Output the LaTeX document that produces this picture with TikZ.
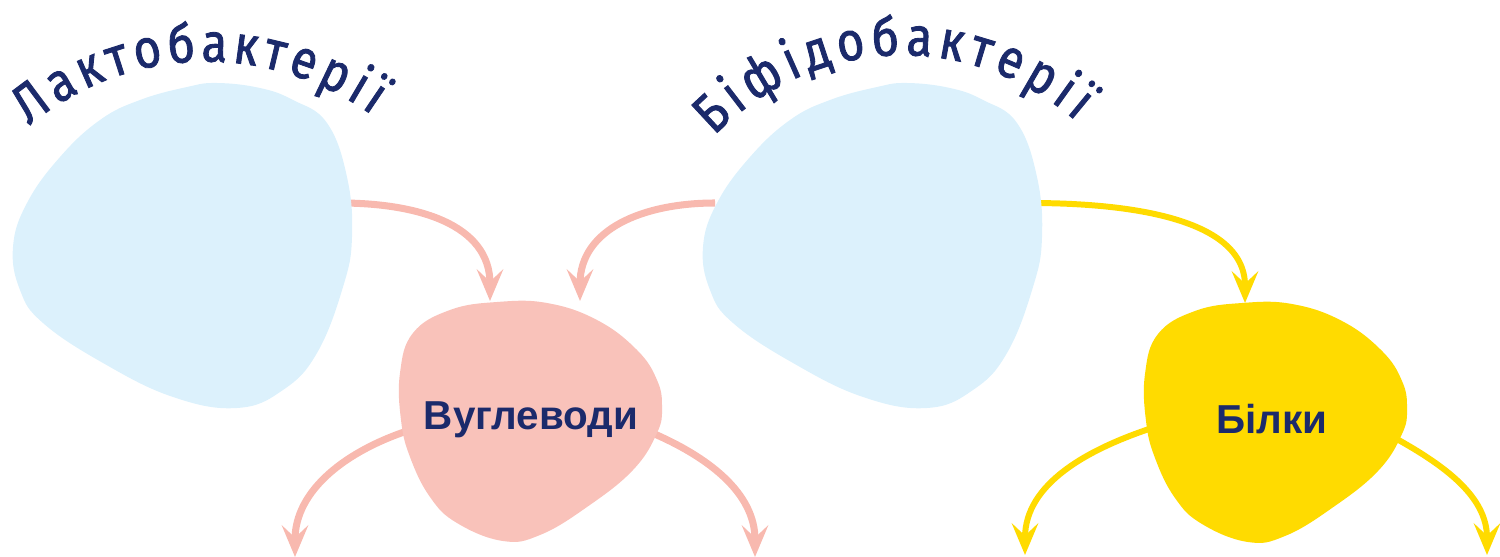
\documentclass[tikz,border=0pt]{standalone}
\usepackage{fontspec}
\usetikzlibrary{arrows.meta,decorations.text}
\newfontfamily\arcfont[Scale=3.1, FakeStretch=0.86, FakeBold=1.6]{Fira Sans}
\newfontfamily\labelfont{Liberation Sans}
\definecolor{ink}{HTML}{1B2A6B}
\definecolor{bacblue}{HTML}{DCF1FC}
\definecolor{carbpink}{HTML}{F9C2BA}
\definecolor{arrowpink}{HTML}{F8B9AF}
\definecolor{protyellow}{HTML}{FFDB00}
\tikzset{
  carbarrow/.style={draw=arrowpink, line width=4pt, -{Stealth[length=18pt, width=15pt, inset=7pt]}},
  protarrow/.style={draw=protyellow, line width=3.4pt, -{Stealth[length=18pt, width=15pt, inset=7pt]}},
  foodlabel/.style={font=\labelfont\bfseries\fontsize{23pt}{27pt}\selectfont, text=ink, inner sep=0pt},
  arctext/.style={decorate, decoration={text along path, text align={fit to path},
    text={|\arcfont\color{ink}|#1}}}
}
\begin{document}
\begin{tikzpicture}[x=0.02cm, y=-0.02cm]
\useasboundingbox (0,0) rectangle (1500,557);
% arrow ends
\coordinate (lactoR) at (340,203);
\coordinate (bifL) at (715,203);
\coordinate (bifR) at (1030,203);
\coordinate (carbT1) at (490,301);
\coordinate (carbT2) at (580,301);
\coordinate (protT) at (1245,303);
\coordinate (carbL) at (410,430);
\coordinate (carbR) at (650,432);
\coordinate (carbD1) at (295,557);
\coordinate (carbD2) at (755,557);
\coordinate (protL) at (1155,427);
\coordinate (protR) at (1395,438);
\coordinate (protD1) at (1025,555);
\coordinate (protD2) at (1487,555);
% arrows
\draw [carbarrow] (lactoR) to[out=0, in=90, looseness=1.1] (carbT1);
\draw [carbarrow] (bifL) to[out=180, in=90, looseness=1.1] (carbT2);
\draw [protarrow] (bifR) to[out=0, in=90, looseness=0.95] (protT);
\draw [carbarrow] (carbL) to[out=198, in=90] (carbD1);
\draw [carbarrow] (carbR) to[out=-23, in=90] (carbD2);
\draw [protarrow] (protL) to[out=198, in=90] (protD1);
\draw [protarrow] (protR) to[out=-29, in=90] (protD2);
% blobs
\fill[bacblue] plot[smooth cycle, tension=0.7] coordinates {(217,83) (260,88) (293,100) (327,123) (347,177) (352,237) (343,287) (317,353) (283,390) (237,408) (173,397) (103,363) (43,323) (20,290) (13,247) (27,203) (60,157) (100,120) (140,100) (187,87)};
\fill[bacblue, shift={(690,0)}] plot[smooth cycle, tension=0.7] coordinates {(217,83) (260,88) (293,100) (327,123) (347,177) (352,237) (343,287) (317,353) (283,390) (237,408) (173,397) (103,363) (43,323) (20,290) (13,247) (27,203) (60,157) (100,120) (140,100) (187,87)};
\fill[carbpink] plot[smooth cycle, tension=0.7] coordinates {(497,302) (547,303) (597,320) (637,350) (657,380) (662,407) (657,433) (633,470) (587,507) (540,535) (503,541) (457,523) (430,497) (410,457) (401,420) (400,373) (413,333) (450,310)};
\fill[protyellow, shift={(745,1)}] plot[smooth cycle, tension=0.7] coordinates {(497,302) (547,303) (597,320) (637,350) (657,380) (662,407) (657,433) (633,470) (587,507) (540,535) (503,541) (457,523) (430,497) (410,457) (401,420) (400,373) (413,333) (450,310)};
% labels
\node[foodlabel] (carbs) at (531,420) {Вуглеводи};
\node[foodlabel] (prot) at (1272,419) {Білки};
\coordinate (lacS) at (29,126);
\coordinate (lacE) at (372,115);
\coordinate (bifS) at (714,136);
\coordinate (bifE) at (1076,121);
\path[arctext=Лактобактерії] (lacS) .. controls (127,44) and (266,40) .. (lacE);
\path[arctext=Біфідобактерії] (bifS) .. controls (814,34) and (968,28) .. (bifE);
\end{tikzpicture}
\end{document}
